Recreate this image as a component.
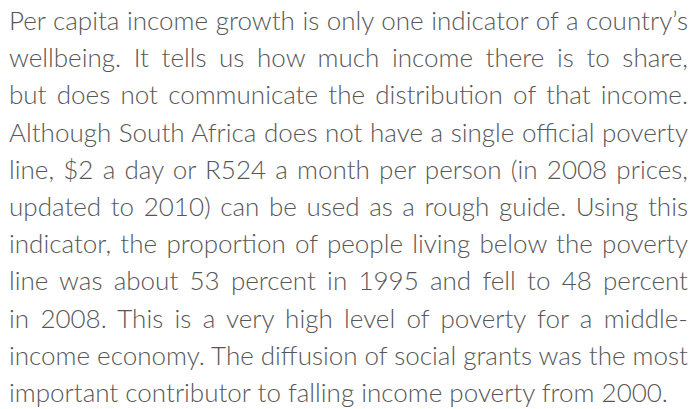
import React, { useLayoutEffect, useRef, useState } from "react";

// Paragraph lines as they break in the reference
const lines: string[] = [
  "Per capita income growth is only one indicator of a country\u2019s",
  "wellbeing. It tells us how much income there is to share,",
  "but does not communicate the distribution of that income.",
  "Although South Africa does not have a single official poverty",
  "line, $2 a day or R524 a month per person (in 2008 prices,",
  "updated to 2010) can be used as a rough guide. Using this",
  "indicator, the proportion of people living below the poverty",
  "line was about 53 percent in 1995 and fell to 48 percent",
  "in 2008. This is a very high level of poverty for a middle-",
  "income economy. The diffusion of social grants was the most",
  "important contributor to falling income poverty from 2000.",
];

const TEXT_WIDTH = 679;
const FONT: React.CSSProperties = {
  fontFamily: "Lato, 'Open Sans', sans-serif",
  fontWeight: 300,
  fontSize: 26,
  whiteSpace: "pre",
};

const App: React.FC = () => {
  const [spacing, setSpacing] = useState<number[]>(lines.map(() => 0));
  const measureRefs = useRef<(HTMLSpanElement | null)[]>([]);

  useLayoutEffect(() => {
    const measure = () => {
      // word spacing that stretches (or squeezes) each line to the full width
      const next = lines.map((line, i) => {
        const el = measureRefs.current[i];
        if (!el || i === lines.length - 1) return 0;
        const gaps = line.split(" ").length - 1;
        return (TEXT_WIDTH - el.getBoundingClientRect().width) / gaps;
      });
      setSpacing(next);
    };
    measure();
    document.fonts?.ready.then(measure);
  }, []);

  return (
    <div
      style={{
        position: "absolute",
        left: 9,
        top: 2,
        width: TEXT_WIDTH,
        height: 407,
        lineHeight: "37.2px",
        color: "#575757",
        ...FONT,
      }}
    >
      {lines.map((line, i) => (
        <div key={i} style={{ wordSpacing: spacing[i] }}>
          {line}
        </div>
      ))}
      <div style={{ position: "absolute", visibility: "hidden", top: 0, left: 0 }}>
        {lines.map((line, i) => (
          <span
            key={i}
            ref={(el) => {
              measureRefs.current[i] = el;
            }}
            style={{ ...FONT, display: "block", width: "max-content" }}
          >
            {line}
          </span>
        ))}
      </div>
    </div>
  );
};

export default App;
